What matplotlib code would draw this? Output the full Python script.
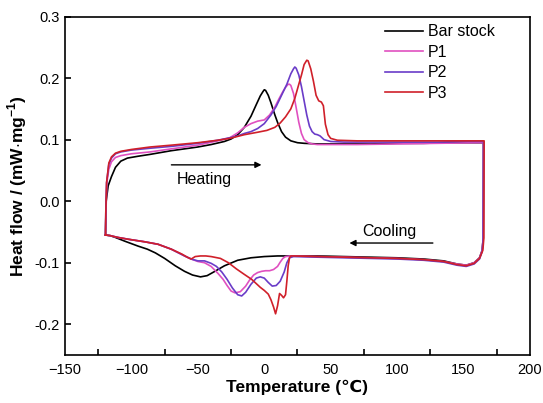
import matplotlib
matplotlib.use("Agg")
import matplotlib.pyplot as plt
import numpy as np

plt.rcParams['font.family'] = ['Liberation Sans', 'DejaVu Sans']
plt.rcParams['mathtext.fontset'] = 'custom'
plt.rcParams['mathtext.rm'] = 'Liberation Sans'
plt.rcParams['mathtext.bf'] = 'Liberation Sans:bold'

# ---------------- data ----------------
series_names = ["Bar stock", "P1", "P2", "P3"]
series_colors = ["#000000", "#e050c0", "#6a3cc8", "#d0202a"]

# heating branches (T ascending)
bar_heat_T = [-119.5, -119.3, -119.0, -117.5, -115, -112, -108, -103, -95, -86, -70, -60, -50, -40, -30, -25,
              -20, -15, -10, -6, -3, -1, 0, 1, 3, 5, 8, 10, 13, 16, 20, 25, 30, 40, 60, 80, 100, 120, 140, 160, 165]
bar_heat_v = [-0.055, -0.03, 0.0, 0.025, 0.04, 0.055, 0.065, 0.070, 0.073, 0.076, 0.082, 0.085, 0.088, 0.092,
              0.097, 0.101, 0.108, 0.120, 0.138, 0.157, 0.171, 0.178, 0.181, 0.180, 0.172, 0.160, 0.140, 0.128,
              0.113, 0.104, 0.098, 0.095, 0.094, 0.093, 0.093, 0.093, 0.094, 0.094, 0.095, 0.095, 0.095]

p1_heat_T = [-119.5, -119.2, -118.5, -117, -115, -112, -108, -100, -86, -70, -50, -35, -26, -20, -15, -10, -5, 0,
             4, 8, 11, 14, 16, 18, 19, 20, 22, 24, 26, 28, 30, 33, 36, 40, 50, 70, 100, 130, 160, 165]
p1_heat_v = [-0.055, -0.02, 0.03, 0.052, 0.064, 0.071, 0.074, 0.077, 0.080, 0.085, 0.091, 0.098, 0.103, 0.111,
             0.120, 0.126, 0.130, 0.132, 0.140, 0.153, 0.166, 0.178, 0.185, 0.190, 0.190, 0.188, 0.175, 0.152,
             0.128, 0.110, 0.100, 0.095, 0.093, 0.092, 0.092, 0.092, 0.093, 0.094, 0.095, 0.095]

p2_heat_T = [-119.5, -119.3, -118.7, -117, -115, -112, -108, -100, -86, -70, -50, -35, -26, -20, -15, -10, -5, 0,
             5, 9, 13, 17, 20, 22, 23, 24, 26, 28, 30, 32, 34, 36, 38, 40, 42, 45, 50, 60, 80, 100, 130, 150, 160, 165]
p2_heat_v = [-0.055, -0.02, 0.03, 0.060, 0.070, 0.077, 0.080, 0.083, 0.086, 0.089, 0.094, 0.099, 0.103, 0.106,
             0.110, 0.113, 0.118, 0.126, 0.140, 0.154, 0.172, 0.190, 0.207, 0.215, 0.218, 0.216, 0.205, 0.186,
             0.163, 0.140, 0.122, 0.113, 0.109, 0.108, 0.106, 0.100, 0.097, 0.096, 0.096, 0.096, 0.096, 0.097,
             0.097, 0.097]

p3_heat_T = [-119.5, -119.3, -118.7, -117, -115, -112, -108, -100, -86, -70, -50, -35, -26, -15, -5, 2, 8, 12, 16,
             20, 23, 26, 28, 30, 32, 33, 35, 37, 39, 41, 43, 44.5, 46, 48, 50, 55, 70, 100, 130, 160, 165.5]
p3_heat_v = [-0.055, -0.02, 0.03, 0.062, 0.072, 0.078, 0.081, 0.084, 0.088, 0.091, 0.095, 0.099, 0.102, 0.108,
             0.112, 0.115, 0.120, 0.127, 0.137, 0.150, 0.167, 0.190, 0.205, 0.222, 0.229, 0.228, 0.215, 0.195,
             0.172, 0.163, 0.161, 0.155, 0.125, 0.108, 0.102, 0.099, 0.098, 0.098, 0.098, 0.098, 0.098]

# cooling branches (T descending)
bar_cool_T = [165, 164.8, 164, 162, 158, 152, 145, 135, 120, 100, 80, 60, 40, 20, 10, 0, -10, -20, -30, -38, -43,
              -48, -54, -60, -67, -75, -82, -88, -95, -105, -112, -116, -119.5]
bar_cool_v = [0.095, -0.060, -0.080, -0.092, -0.100, -0.104, -0.102, -0.097, -0.094, -0.092, -0.091, -0.090,
              -0.089, -0.089, -0.089, -0.090, -0.092, -0.096, -0.105, -0.115, -0.121, -0.123, -0.120, -0.114,
              -0.105, -0.093, -0.084, -0.078, -0.073, -0.065, -0.059, -0.056, -0.055]

p1_cool_T = [165, 164.8, 164, 162, 158, 152, 145, 135, 120, 100, 80, 60, 40, 20, 16, 14, 12, 10, 7, 4, 1, -2, -5,
             -8, -11, -14, -18, -22, -25, -28, -31, -35, -40, -45, -50, -55, -60, -70, -80, -90, -102, -110,
             -116, -119.5]
p1_cool_v = [0.095, -0.060, -0.080, -0.092, -0.100, -0.104, -0.102, -0.098, -0.095, -0.093, -0.092, -0.091,
             -0.090, -0.089, -0.090, -0.093, -0.099, -0.106, -0.111, -0.113, -0.113, -0.114, -0.116, -0.120,
             -0.128, -0.138, -0.147, -0.149, -0.146, -0.137, -0.127, -0.117, -0.106, -0.100, -0.098, -0.094,
             -0.089, -0.078, -0.070, -0.066, -0.062, -0.059, -0.056, -0.055]

p2_cool_T = [165, 164.8, 164, 162, 158, 152, 145, 135, 120, 100, 80, 60, 40, 22, 19, 17, 15, 12, 9, 6, 3, 0, -3,
             -6, -10, -14, -17, -20, -24, -28, -32, -36, -40, -45, -50, -55, -60, -70, -80, -90, -102, -110,
             -116, -119.5]
p2_cool_v = [0.097, -0.060, -0.082, -0.094, -0.102, -0.106, -0.104, -0.099, -0.096, -0.094, -0.093, -0.092,
             -0.091, -0.090, -0.092, -0.100, -0.115, -0.130, -0.137, -0.138, -0.132, -0.125, -0.123, -0.125,
             -0.135, -0.148, -0.154, -0.152, -0.141, -0.127, -0.115, -0.106, -0.101, -0.097, -0.097, -0.094,
             -0.089, -0.078, -0.070, -0.066, -0.062, -0.059, -0.056, -0.055]

p3_cool_T = [165.5, 165.3, 164.5, 162, 158, 152, 145, 135, 120, 100, 80, 60, 40, 22, 20, 19, 18, 17, 16, 14.5, 13,
             11.5, 10, 8.5, 7, 5, 3, 0, -3, -9.5, -15, -21, -27, -33, -40, -44, -48, -52, -55, -58, -62, -70,
             -80, -90, -102, -110, -116, -119.5]
p3_cool_v = [0.098, -0.060, -0.080, -0.093, -0.101, -0.105, -0.103, -0.098, -0.095, -0.093, -0.092, -0.091,
             -0.090, -0.089, -0.089, -0.092, -0.105, -0.130, -0.152, -0.157, -0.153, -0.150, -0.170, -0.183,
             -0.172, -0.160, -0.151, -0.145, -0.140, -0.127, -0.119, -0.110, -0.100, -0.093, -0.090, -0.089,
             -0.089, -0.090, -0.094, -0.091, -0.086, -0.078, -0.070, -0.066, -0.062, -0.059, -0.056, -0.055]

heat_T = [bar_heat_T, p1_heat_T, p2_heat_T, p3_heat_T]
heat_v = [bar_heat_v, p1_heat_v, p2_heat_v, p3_heat_v]
cool_T = [bar_cool_T, p1_cool_T, p2_cool_T, p3_cool_T]
cool_v = [bar_cool_v, p1_cool_v, p2_cool_v, p3_cool_v]

x_major = [-150, -100, -50, 0, 50, 100, 150, 200]
x_minor = [-125, -75, -25, 25, 75, 125, 175]
y_major = [-0.2, -0.1, 0.0, 0.1, 0.2, 0.3]
y_labels = ["-0.2", "-0.1", "0.0", "0.1", "0.2", "0.3"]

# ---------------- plot ----------------
fig = plt.figure(figsize=(5.43, 4.03), dpi=100)
ax = fig.add_axes([0.1197, 0.119, 0.8563, 0.840])

handles = {}
for i in [0, 1, 2, 3]:
    T = list(heat_T[i]) + list(cool_T[i])
    v = list(heat_v[i]) + list(cool_v[i])
    ln, = ax.plot(T, v, color=series_colors[i], lw=1.2, label=series_names[i])
    handles[i] = ln

leg = ax.legend([handles[i] for i in range(4)], series_names, loc='upper left',
                bbox_to_anchor=(0.688, 0.977), frameon=False, fontsize=11.5,
                handlelength=2.4, handletextpad=0.3, labelspacing=0.34, borderaxespad=0.0,
                borderpad=0.0)

ax.annotate("", xy=(0, 0.059), xytext=(-72, 0.059),
            arrowprops=dict(arrowstyle='-|>', color='black', lw=1.0, mutation_scale=9))
ax.text(-66, 0.035, "Heating", fontsize=11.5, ha='left', va='center')
ax.annotate("", xy=(62, -0.068), xytext=(129, -0.068),
            arrowprops=dict(arrowstyle='-|>', color='black', lw=1.0, mutation_scale=9))
ax.text(74, -0.049, "Cooling", fontsize=11.5, ha='left', va='center')

ax.set_xlim(-150, 200)
ax.set_ylim(-0.25, 0.3)
ax.set_xticks(x_major)
ax.set_xticks(x_minor, minor=True)
ax.set_yticks(y_major)
ax.set_yticklabels(y_labels)
ax.tick_params(axis='x', which='major', length=0, labelsize=10.5, pad=6)
ax.tick_params(axis='x', which='minor', direction='in', length=4, width=1.2)
ax.tick_params(axis='y', which='major', direction='in', length=4, width=1.2, labelsize=10.5, pad=4)
for s in ax.spines.values():
    s.set_linewidth(1.2)

ax.set_xlabel("Temperature (\u2103)", fontsize=12.5, fontweight='bold', labelpad=2)
ax.set_ylabel(r"Heat flow / (mW$\cdot$mg$^{\mathbf{-1}}$)", fontsize=12.5, fontweight='bold', labelpad=4)

fig.savefig("out.png", dpi=100)
